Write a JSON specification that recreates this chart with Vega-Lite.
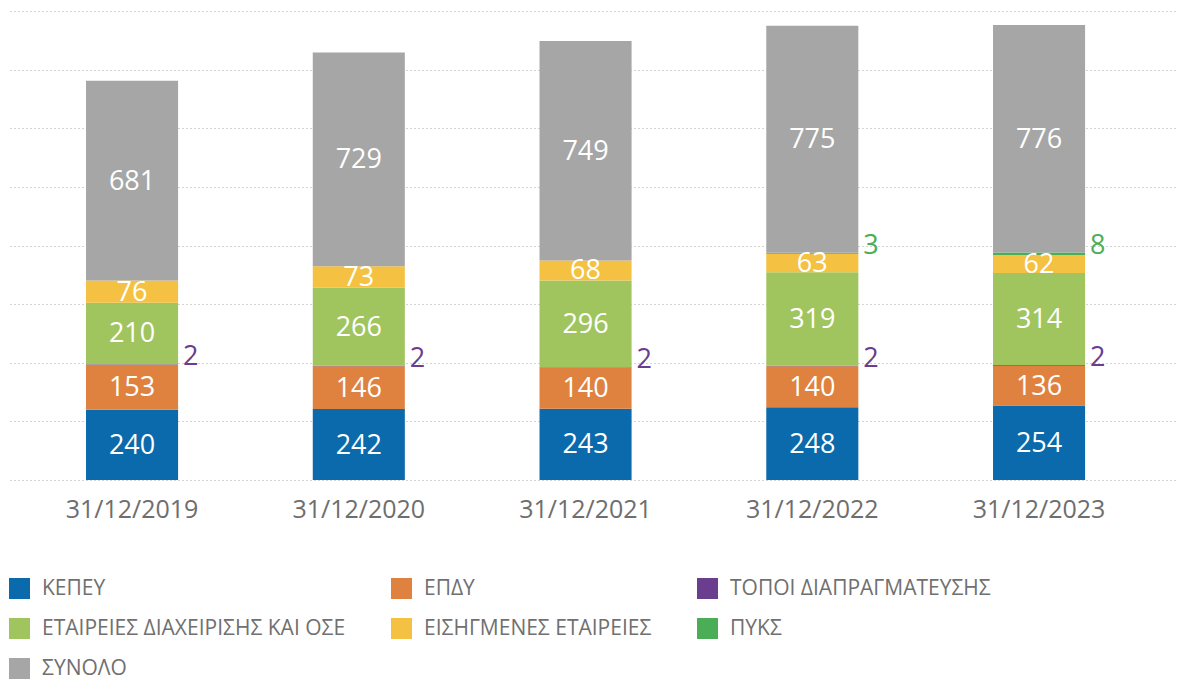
{
  "$schema": "https://vega.github.io/schema/vega-lite/v6.json",
  "width": 1168,
  "height": 469,
  "autosize": {"type": "none"},
  "padding": {"left": 10, "top": 11, "right": 0, "bottom": 199},
  "config": {
    "view": {"stroke": null},
    "font": "Open Sans",
    "axisY": {
      "title": null,
      "labels": false,
      "ticks": false,
      "domain": false,
      "grid": true,
      "gridColor": "#a8a8a8",
      "gridDash": [1, 3],
      "gridWidth": 1,
      "tickCount": 8
    },
    "legend": {
      "orient": "none",
      "direction": "horizontal",
      "columns": 3,
      "padding": 0,
      "symbolType": "square",
      "symbolSize": 441,
      "symbolStrokeWidth": 0,
      "labelFontSize": 21,
      "labelColor": "#707070",
      "labelFont": "Open Sans",
      "labelOffset": 12,
      "rowPadding": 18,
      "columnPadding": 45,
      "labelLimit": 500
    }
  },
  "data": {
    "values": [
      {"date": "31/12/2019", "cat": "ΚΕΠΕΥ", "ord": 1, "value": 240},
      {"date": "31/12/2019", "cat": "ΕΠΔΥ", "ord": 2, "value": 153},
      {"date": "31/12/2019", "cat": "ΤΟΠΟΙ ΔΙΑΠΡΑΓΜΑΤΕΥΣΗΣ", "ord": 3, "value": 2},
      {"date": "31/12/2019", "cat": "ΕΤΑΙΡΕΙΕΣ ΔΙΑΧΕΙΡΙΣΗΣ ΚΑΙ ΟΣΕ", "ord": 4, "value": 210},
      {"date": "31/12/2019", "cat": "ΕΙΣΗΓΜΕΝΕΣ ΕΤΑΙΡΕΙΕΣ", "ord": 5, "value": 76},
      {"date": "31/12/2019", "cat": "ΣΥΝΟΛΟ", "ord": 7, "value": 681},
      {"date": "31/12/2020", "cat": "ΚΕΠΕΥ", "ord": 1, "value": 242},
      {"date": "31/12/2020", "cat": "ΕΠΔΥ", "ord": 2, "value": 146},
      {"date": "31/12/2020", "cat": "ΤΟΠΟΙ ΔΙΑΠΡΑΓΜΑΤΕΥΣΗΣ", "ord": 3, "value": 2},
      {"date": "31/12/2020", "cat": "ΕΤΑΙΡΕΙΕΣ ΔΙΑΧΕΙΡΙΣΗΣ ΚΑΙ ΟΣΕ", "ord": 4, "value": 266},
      {"date": "31/12/2020", "cat": "ΕΙΣΗΓΜΕΝΕΣ ΕΤΑΙΡΕΙΕΣ", "ord": 5, "value": 73},
      {"date": "31/12/2020", "cat": "ΣΥΝΟΛΟ", "ord": 7, "value": 729},
      {"date": "31/12/2021", "cat": "ΚΕΠΕΥ", "ord": 1, "value": 243},
      {"date": "31/12/2021", "cat": "ΕΠΔΥ", "ord": 2, "value": 140},
      {"date": "31/12/2021", "cat": "ΤΟΠΟΙ ΔΙΑΠΡΑΓΜΑΤΕΥΣΗΣ", "ord": 3, "value": 2},
      {"date": "31/12/2021", "cat": "ΕΤΑΙΡΕΙΕΣ ΔΙΑΧΕΙΡΙΣΗΣ ΚΑΙ ΟΣΕ", "ord": 4, "value": 296},
      {"date": "31/12/2021", "cat": "ΕΙΣΗΓΜΕΝΕΣ ΕΤΑΙΡΕΙΕΣ", "ord": 5, "value": 68},
      {"date": "31/12/2021", "cat": "ΣΥΝΟΛΟ", "ord": 7, "value": 749},
      {"date": "31/12/2022", "cat": "ΚΕΠΕΥ", "ord": 1, "value": 248},
      {"date": "31/12/2022", "cat": "ΕΠΔΥ", "ord": 2, "value": 140},
      {"date": "31/12/2022", "cat": "ΤΟΠΟΙ ΔΙΑΠΡΑΓΜΑΤΕΥΣΗΣ", "ord": 3, "value": 2},
      {"date": "31/12/2022", "cat": "ΕΤΑΙΡΕΙΕΣ ΔΙΑΧΕΙΡΙΣΗΣ ΚΑΙ ΟΣΕ", "ord": 4, "value": 319},
      {"date": "31/12/2022", "cat": "ΕΙΣΗΓΜΕΝΕΣ ΕΤΑΙΡΕΙΕΣ", "ord": 5, "value": 63},
      {"date": "31/12/2022", "cat": "ΠΥΚΣ", "ord": 6, "value": 3},
      {"date": "31/12/2022", "cat": "ΣΥΝΟΛΟ", "ord": 7, "value": 775},
      {"date": "31/12/2023", "cat": "ΚΕΠΕΥ", "ord": 1, "value": 254},
      {"date": "31/12/2023", "cat": "ΕΠΔΥ", "ord": 2, "value": 136},
      {"date": "31/12/2023", "cat": "ΤΟΠΟΙ ΔΙΑΠΡΑΓΜΑΤΕΥΣΗΣ", "ord": 3, "value": 2},
      {"date": "31/12/2023", "cat": "ΕΤΑΙΡΕΙΕΣ ΔΙΑΧΕΙΡΙΣΗΣ ΚΑΙ ΟΣΕ", "ord": 4, "value": 314},
      {"date": "31/12/2023", "cat": "ΕΙΣΗΓΜΕΝΕΣ ΕΤΑΙΡΕΙΕΣ", "ord": 5, "value": 62},
      {"date": "31/12/2023", "cat": "ΠΥΚΣ", "ord": 6, "value": 8},
      {"date": "31/12/2023", "cat": "ΣΥΝΟΛΟ", "ord": 7, "value": 776}
    ]
  },
  "encoding": {
    "x": {
      "field": "date",
      "type": "ordinal",
      "scale": {"paddingInner": 0.594, "paddingOuter": 0.3725, "align": 0.45},
      "axis": {
        "title": null,
        "domain": false,
        "ticks": false,
        "labelAngle": 0,
        "labelFontSize": 25,
        "labelColor": "#6e6e6e",
        "labelFont": "Open Sans",
        "labelPadding": 17
      }
    }
  },
  "layer": [
    {
      "mark": {"type": "bar"},
      "encoding": {
        "y": {
          "field": "value",
          "type": "quantitative",
          "stack": "zero",
          "title": null,
          "scale": {"domain": [0, 1600], "nice": false}
        },
        "color": {
          "field": "cat",
          "type": "nominal",
          "title": null,
          "sort": ["ΚΕΠΕΥ", "ΕΠΔΥ", "ΤΟΠΟΙ ΔΙΑΠΡΑΓΜΑΤΕΥΣΗΣ", "ΕΤΑΙΡΕΙΕΣ ΔΙΑΧΕΙΡΙΣΗΣ ΚΑΙ ΟΣΕ", "ΕΙΣΗΓΜΕΝΕΣ ΕΤΑΙΡΕΙΕΣ", "ΠΥΚΣ", "ΣΥΝΟΛΟ"],
          "scale": {
            "domain": ["ΚΕΠΕΥ", "ΕΠΔΥ", "ΤΟΠΟΙ ΔΙΑΠΡΑΓΜΑΤΕΥΣΗΣ", "ΕΤΑΙΡΕΙΕΣ ΔΙΑΧΕΙΡΙΣΗΣ ΚΑΙ ΟΣΕ", "ΕΙΣΗΓΜΕΝΕΣ ΕΤΑΙΡΕΙΕΣ", "ΠΥΚΣ", "ΣΥΝΟΛΟ"],
            "range": ["#0a6aab", "#e0823f", "#6a3d8f", "#a1c55e", "#f4c142", "#4cad57", "#a6a6a6"]
          },
          "legend": {
            "orient": "none",
            "direction": "horizontal",
            "legendX": -1,
            "legendY": 567,
            "columns": 3,
            "values": ["ΚΕΠΕΥ", "ΕΠΔΥ", "ΤΟΠΟΙ ΔΙΑΠΡΑΓΜΑΤΕΥΣΗΣ", "ΕΤΑΙΡΕΙΕΣ ΔΙΑΧΕΙΡΙΣΗΣ ΚΑΙ ΟΣΕ", "ΕΙΣΗΓΜΕΝΕΣ ΕΤΑΙΡΕΙΕΣ", "ΠΥΚΣ", "ΣΥΝΟΛΟ"]
          }
        },
        "order": {"field": "ord", "type": "quantitative"}
      }
    },
    {
      "transform": [
        {"stack": "value", "groupby": ["date"], "sort": [{"field": "ord", "order": "ascending"}], "as": ["y0", "y1"]},
        {"filter": {"not": {"field": "cat", "oneOf": ["ΤΟΠΟΙ ΔΙΑΠΡΑΓΜΑΤΕΥΣΗΣ", "ΠΥΚΣ"]}}},
        {"fold": ["y0", "y1"], "as": ["k", "pos"]}
      ],
      "mark": {"type": "text", "fontSize": 27, "color": "white", "baseline": "middle", "dy": 1, "font": "Open Sans"},
      "encoding": {
        "y": {"aggregate": "mean", "field": "pos", "type": "quantitative", "title": null, "scale": {"domain": [0, 1600], "nice": false}},
        "detail": {"field": "cat", "type": "nominal"},
        "text": {"aggregate": "max", "field": "value", "type": "quantitative"}
      }
    },
    {
      "transform": [
        {"stack": "value", "groupby": ["date"], "sort": [{"field": "ord", "order": "ascending"}], "as": ["y0", "y1"]},
        {"filter": {"field": "cat", "oneOf": ["ΤΟΠΟΙ ΔΙΑΠΡΑΓΜΑΤΕΥΣΗΣ", "ΠΥΚΣ"]}}
      ],
      "mark": {"type": "text", "fontSize": 27, "align": "left", "baseline": "alphabetic", "dx": 51, "dy": 1, "font": "Open Sans"},
      "encoding": {
        "y": {"field": "y1", "type": "quantitative", "title": null, "scale": {"domain": [0, 1600], "nice": false}},
        "color": {
          "field": "cat",
          "type": "nominal",
          "title": null,
          "sort": ["ΚΕΠΕΥ", "ΕΠΔΥ", "ΤΟΠΟΙ ΔΙΑΠΡΑΓΜΑΤΕΥΣΗΣ", "ΕΤΑΙΡΕΙΕΣ ΔΙΑΧΕΙΡΙΣΗΣ ΚΑΙ ΟΣΕ", "ΕΙΣΗΓΜΕΝΕΣ ΕΤΑΙΡΕΙΕΣ", "ΠΥΚΣ", "ΣΥΝΟΛΟ"],
          "scale": {
            "domain": ["ΚΕΠΕΥ", "ΕΠΔΥ", "ΤΟΠΟΙ ΔΙΑΠΡΑΓΜΑΤΕΥΣΗΣ", "ΕΤΑΙΡΕΙΕΣ ΔΙΑΧΕΙΡΙΣΗΣ ΚΑΙ ΟΣΕ", "ΕΙΣΗΓΜΕΝΕΣ ΕΤΑΙΡΕΙΕΣ", "ΠΥΚΣ", "ΣΥΝΟΛΟ"],
            "range": ["#0a6aab", "#e0823f", "#6a3d8f", "#a1c55e", "#f4c142", "#4cad57", "#a6a6a6"]
          },
          "legend": {
            "orient": "none",
            "direction": "horizontal",
            "legendX": -1,
            "legendY": 567,
            "columns": 3,
            "values": ["ΚΕΠΕΥ", "ΕΠΔΥ", "ΤΟΠΟΙ ΔΙΑΠΡΑΓΜΑΤΕΥΣΗΣ", "ΕΤΑΙΡΕΙΕΣ ΔΙΑΧΕΙΡΙΣΗΣ ΚΑΙ ΟΣΕ", "ΕΙΣΗΓΜΕΝΕΣ ΕΤΑΙΡΕΙΕΣ", "ΠΥΚΣ", "ΣΥΝΟΛΟ"]
          }
        },
        "text": {"field": "value", "type": "quantitative"}
      }
    }
  ]
}
